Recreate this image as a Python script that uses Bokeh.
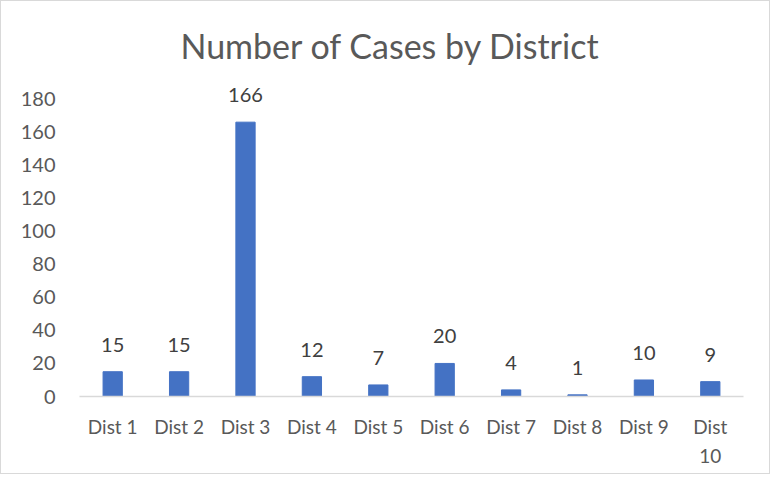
from bokeh.plotting import figure
from bokeh.models import ColumnDataSource, Range1d, FactorRange, CustomJSTickFormatter
from bokeh.embed import file_html
from bokeh.resources import INLINE
from bokeh.core.properties import value

districts = ["Dist 1", "Dist 2", "Dist 3", "Dist 4", "Dist 5", "Dist 6", "Dist 7", "Dist 8", "Dist 9", "Dist 10"]
cases = [15, 15, 166, 12, 7, 20, 4, 1, 10, 9]
y_ticks = [0, 20, 40, 60, 80, 100, 120, 140, 160, 180]
# "Dist 10" wraps onto two lines in the original
wrapped_x = ["Dist 10"]
wrapped_text = ["Dist\n10"]

FONT = "Lato"
src = ColumnDataSource(dict(x=districts, y=cases, lab=[str(v) for v in cases]))

p = figure(x_range=FactorRange(*districts, range_padding=0), y_range=Range1d(0, 190),
           width=770, height=474, output_backend="svg", toolbar_location=None,
           min_border_left=78, min_border_right=28, min_border_top=81, min_border_bottom=79)
p.x_range.factor_padding = 0
p.vbar(x="x", top="y", width=0.29, source=src, color="#4472C4")
p.text(x="x", y="y", text="lab", source=src, text_align="center", text_baseline="alphabetic",
       y_offset=-27, text_font=value(FONT), text_font_size="20px", text_color="#404040")

p.title.text = "Number of Cases by District"
p.title.align = "left"
p.title.offset = 101
p.title.text_font = FONT
p.title.text_font_style = "normal"
p.title.text_font_size = "34px"
p.title.text_color = "#595959"
p.title.standoff = 34

p.xgrid.grid_line_color = None
p.ygrid.grid_line_color = None
p.outline_line_color = None

p.yaxis.ticker = y_ticks
p.yaxis.axis_line_color = None
p.yaxis.major_tick_line_color = None
p.yaxis.minor_tick_line_color = None
p.yaxis.major_label_standoff = 18
p.yaxis.major_label_text_font = FONT
p.yaxis.major_label_text_font_size = "20px"
p.yaxis.major_label_text_color = "#595959"

p.xaxis.axis_line_color = "#D9D9D9"
p.xaxis.axis_line_width = 1.5
p.xaxis.major_tick_line_color = None
p.xaxis.minor_tick_line_color = None
p.xaxis.major_label_standoff = 12
p.xaxis.major_label_text_font = FONT
p.xaxis.major_label_text_font_size = "19px"
p.xaxis.major_label_text_line_height = 1.3
p.xaxis.major_label_text_color = "#595959"
p.xaxis.formatter = CustomJSTickFormatter(
    args=dict(keys=wrapped_x, texts=wrapped_text),
    code="const i = keys.indexOf(tick); return i >= 0 ? texts[i] : tick;")

p.styles = {"border": "1px solid #D9D9D9"}

open("out.html", "w").write(file_html(p, INLINE))
